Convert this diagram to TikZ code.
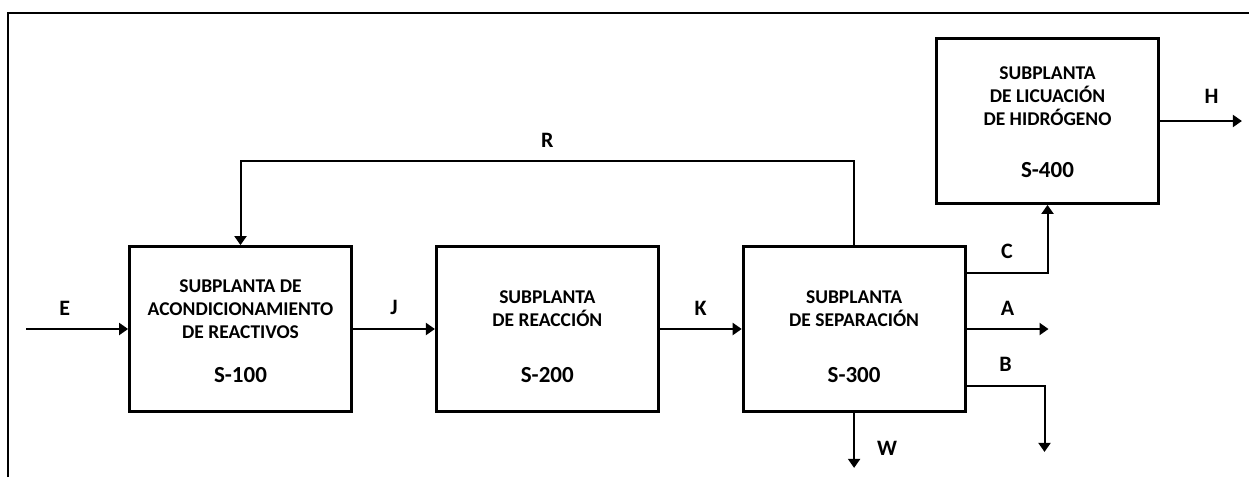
\documentclass[tikz,border=0pt]{standalone}
\usepackage{fontspec}
\setmainfont{Carlito}
\usetikzlibrary{arrows.meta,positioning}
\tikzset{
  subplanta/.style={draw, line width=2.8pt, minimum width=222pt, minimum height=165pt, inner sep=0pt},
  titulo/.style={font=\fontsize{19.5}{23}\selectfont\bfseries, align=center, inner sep=0pt},
  codigo/.style={font=\fontsize{23}{26}\selectfont\bfseries, inner sep=0pt},
  etiqueta/.style={font=\fontsize{22}{26}\selectfont\bfseries, inner sep=0pt},
  flujo/.style={line width=2pt, -{Triangle[length=9pt,width=12pt]}},
  marco/.style={line width=2.6pt}
}
\begin{document}
\begin{tikzpicture}[x=1pt, y=-1pt, node distance=82pt]
  \useasboundingbox (0,0) rectangle (1249,477);
  \draw[marco] (8,477) -- (8,13) -- (1249,13);
  % subplantas
  \node[subplanta] (s100) at (240.5,329) {};
  \node[subplanta, right=of s100] (s200) {};
  \node[subplanta, right=of s200] (s300) {};
  \node[subplanta] (s400) at (1047.5,121) {};
  \node[titulo] (t100) at ([yshift=20pt]s100.center) {SUBPLANTA DE\\ACONDICIONAMIENTO\\DE REACTIVOS};
  \node[codigo] (c100) at ([yshift=38pt]s100.south) {S-100};
  \node[titulo] (t200) at ([yshift=20pt]s200.center) {SUBPLANTA\\DE REACCIÓN};
  \node[codigo] (c200) at ([yshift=38pt]s200.south) {S-200};
  \node[titulo] (t300) at ([yshift=20pt]s300.center) {SUBPLANTA\\DE SEPARACIÓN};
  \node[codigo] (c300) at ([yshift=38pt]s300.south) {S-300};
  \node[titulo] (t400) at ([yshift=25pt]s400.center) {SUBPLANTA\\DE LICUACIÓN\\DE HIDRÓGENO};
  \node[codigo] (c400) at ([yshift=35pt]s400.south) {S-400};
  % corrientes
  \coordinate (ent) at (26,329);
  \draw[flujo] (ent) -- node[etiqueta, pos=0.38, above=13pt] (le) {E} (s100.west);
  \draw[flujo] (s100) -- node[etiqueta, above=13pt] (lj) {J} (s200);
  \draw[flujo] (s200) -- node[etiqueta, above=13pt] (lk) {K} (s300);
  \draw[flujo] (s300.north) -- ++(0,-84) -| node[etiqueta, pos=0.25, above=13pt] (lr) {R} (s100.north);
  \draw[flujo] ([yshift=-28pt]s300.north east) -| node[etiqueta, pos=0.25, above=13pt] (lc) {C} (s400.south);
  \draw[flujo] (s300.east) -- node[etiqueta, above=13pt] (la) {A} ++(82,0);
  \draw[flujo] ([yshift=27pt]s300.south east) -- node[etiqueta, above=13pt] (lb) {B} ++(78,0) -- ++(0,66);
  \draw[flujo] (s300.south) -- node[etiqueta, pos=0.65, right=22pt] (lw) {W} ++(0,55);
  \draw[flujo] (s400.east) -- node[etiqueta, pos=0.63, above=17pt] (lh) {H} ++(82,0);
\end{tikzpicture}
\end{document}
